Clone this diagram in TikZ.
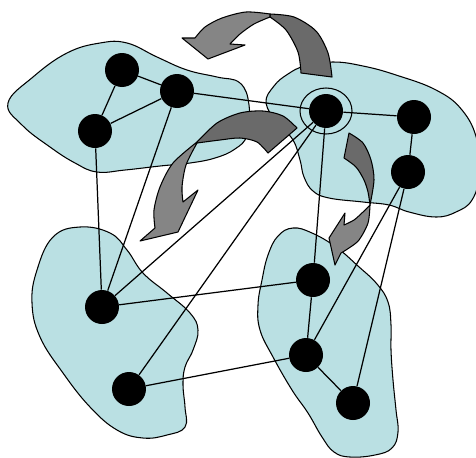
\documentclass[tikz,border=0pt]{standalone}
\usepackage{tikz}
\usetikzlibrary{arrows.meta,positioning,calc}
\definecolor{clusterblue}{HTML}{BAE0E3}
\definecolor{backgray}{HTML}{6A6A6A}
\definecolor{frontgray}{HTML}{858585}
\begin{document}
\begin{tikzpicture}[
  x=0.02cm, y=-0.02cm,
  blob/.style={draw, fill=clusterblue, line width=0.6pt},
  vertex/.style={circle, fill=black, minimum size=0.68cm, inner sep=0pt},
  link/.style={line width=0.7pt},
  bandback/.style={draw, fill=backgray, line width=0.6pt, line join=round},
  bandfront/.style={draw, fill=frontgray, line width=0.6pt, line join=round}
]
\useasboundingbox (0,0) rectangle (476,457);
\draw[blob] plot[smooth cycle, tension=0.7] coordinates {(8,103) (33,77) (67,53) (100,43) (127,43) (157,57) (187,70) (217,77) (240,83) (249,105) (247,135) (235,149) (215,158) (190,163) (160,166) (125,170) (97,172) (75,163) (50,147) (22,125)};
\draw[blob] plot[smooth cycle, tension=0.7] coordinates {(266,103) (274,86) (288,74) (305,66) (333,62) (363,66) (396,75) (436,90) (462,110) (477,140) (479,175) (472,200) (456,212) (436,217) (409,212) (389,205) (363,202) (329,198) (313,191) (304,177) (300,160) (293,140) (278,123)};
\draw[blob] plot[smooth cycle, tension=0.7] coordinates {(80,227) (110,233) (127,250) (143,273) (167,293) (190,313) (198,330) (193,350) (185,367) (183,385) (185,407) (185,427) (167,435) (143,438) (117,430) (90,407) (63,373) (40,337) (32,303) (37,270) (53,237)};
\draw[blob] plot[smooth cycle, tension=0.7] coordinates {(293,228) (312,233) (336,247) (358,266) (377,284) (388,302) (391,325) (391,350) (393,380) (396,410) (398,432) (392,448) (375,455) (350,457) (334,452) (322,437) (308,413) (292,390) (273,357) (260,330) (258,305) (262,280) (268,255) (278,236)};
\node[vertex] (a1) at (122,70) {};
\node[vertex] (a2) at (177,91) {};
\node[vertex] (a3) at (95,131) {};
\node[vertex] (b1) at (326,111) {};
\node[vertex] (b2) at (414,117) {};
\node[vertex] (b3) at (408,172) {};
\node[vertex] (c1) at (102,307) {};
\node[vertex] (c2) at (129,389) {};
\node[vertex] (d1) at (313,280) {};
\node[vertex] (d2) at (306,355) {};
\node[vertex] (d3) at (353,403) {};
\draw[link] (a1) -- (a2);
\draw[link] (a1) -- (a3);
\draw[link] (a3) -- (a2);
\draw[link] (a2) -- (b1);
\draw[link] (a3) -- (c1);
\draw[link] (a2) -- (c1);
\draw[link] (b1) -- (b2);
\draw[link] (b2) -- (b3);
\draw[link] (b1) -- (c1);
\draw[link] (b1) -- (c2);
\draw[link] (b1) -- (d1);
\draw[link] (b3) -- (d2);
\draw[link] (b3) -- (d3);
\draw[link] (c1) -- (d1);
\draw[link] (c2) -- (d2);
\draw[link] (d1) -- (d2);
\draw[link] (d2) -- (d3);
\draw[line width=0.6pt] (b1.center) ellipse (26 and 23);
\draw[bandback] (270,14) -- plot[smooth] coordinates {(270,14) (294,17) (316,31) (328,53) (332,77)} -- (301,73) -- plot[smooth] coordinates {(301,73) (298,52) (286,30) (270,17)} -- cycle;
\draw[bandfront] (270,14) -- plot[smooth] coordinates {(270,14) (246,12) (222,18) (205,27) (195,38)} -- (182,38) -- (208,59) -- (245,45) -- (230,44) -- plot[smooth] coordinates {(230,44) (240,34) (254,24) (270,17)} -- cycle;
\draw[bandback] (197,142) -- plot[smooth] coordinates {(197,142) (217,123) (240,113) (263,111) (283,116) (297,128)} -- (268,153) -- plot[smooth] coordinates {(268,153) (257,142) (240,138) (220,140) (197,143)} -- cycle;
\draw[bandfront] (197,142) -- plot[smooth] coordinates {(197,142) (173,163) (160,187) (154,210) (155,228)} -- (140,241) -- (178,232) -- (198,190) -- (183,202) -- plot[smooth] coordinates {(183,202) (182,187) (186,165) (197,143)} -- cycle;
\draw[bandback] (349,133) -- plot[smooth] coordinates {(349,133) (363,143) (371,160) (374,180) (370,205)} -- plot[smooth] coordinates {(370,205) (368,192) (364,180) (356,167) (344,158)} -- cycle;
\draw[bandfront] (370,205) -- plot[smooth] coordinates {(370,205) (368,223) (359,240) (349,248) (341,253)} -- (335,265) -- (329,238) -- (345,213) -- (344,225) -- plot[smooth] coordinates {(344,225) (354,220) (363,212) (370,205)} -- cycle;
\end{tikzpicture}
\end{document}
